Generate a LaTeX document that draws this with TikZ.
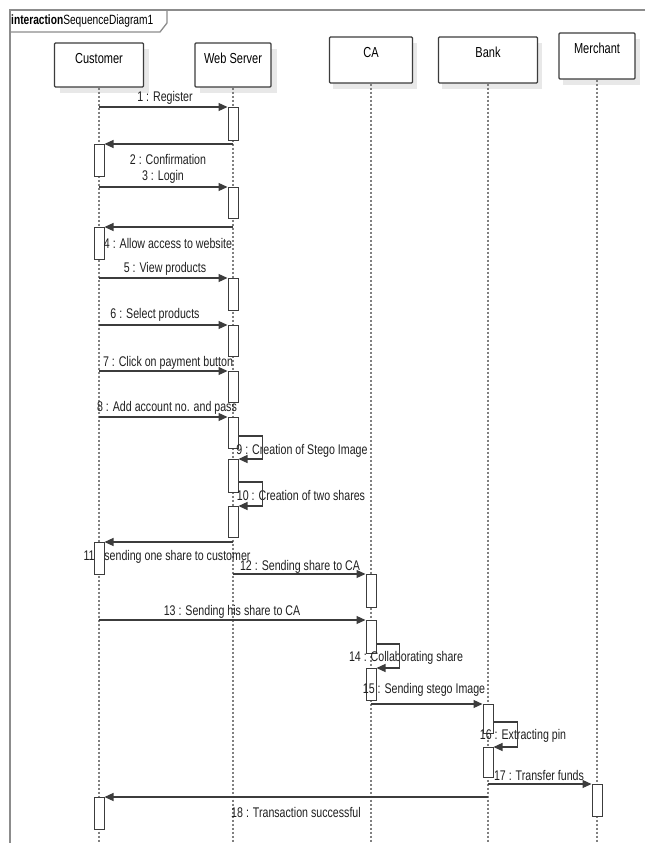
\documentclass[tikz,border=0pt]{standalone}
\usepackage{fontspec}
\setmainfont{Liberation Sans}[FakeStretch=0.76]
\usetikzlibrary{arrows.meta}
\definecolor{linec}{HTML}{3C3C3C}
\definecolor{lifec}{HTML}{808080}
\definecolor{framec}{HTML}{8C8C8C}
\definecolor{shadowc}{HTML}{E8E8E8}
\definecolor{textc}{HTML}{202020}
\begin{document}
\begin{tikzpicture}[x=1pt,y=-1pt,
  head/.style={draw=linec, line width=1.2pt, fill=white, rounded corners=1pt, minimum height=44pt, inner sep=0pt},
  headtxt/.style={font=\fontsize{14.5}{16}\selectfont, text=black, inner sep=0pt, anchor=center, yshift=-16pt},
  life/.style={draw=lifec, line width=1.1pt, dash pattern=on 2pt off 2pt},
  act/.style={draw=linec, line width=1pt, fill=white, minimum width=10pt, inner sep=0pt, anchor=north},
  msg/.style={draw=linec, line width=1.2pt, -{Triangle[length=9pt,width=8pt]}},
  lbl/.style={font=\fontsize{14}{15}\selectfont, text=textc, inner sep=0pt},
  shadowbox/.style={fill=shadowc, draw=none},
]
\useasboundingbox (0,0) rectangle (645,843);
\fill[white] (0,0) rectangle (645,843);

% frame
\draw[framec, line width=1.3pt] (645,10) -- (10,10) -- (10,843);
\draw[framec, line width=1.3pt] (10,32) -- (160,32) -- (167,23) -- (167,10);
\node[font=\fontsize{13.4}{15}\selectfont, anchor=west, inner sep=0pt] (title) at (11,21) {\textbf{interaction}SequenceDiagram1};

% shadows
\fill[shadowbox] (60,49) rectangle (149,93);
\fill[shadowbox] (200,49) rectangle (277,93);
\fill[shadowbox] (333,43) rectangle (417,89);
\fill[shadowbox] (442,43) rectangle (542,89);
\fill[shadowbox] (563,39) rectangle (640,85);

% heads
\node[head, minimum width=89pt, label={[headtxt]north:Customer}] (cu) at (99,65) {};
\node[head, minimum width=76pt, label={[headtxt]north:Web Server}] (ws) at (233,65) {};
\node[head, minimum width=83pt, minimum height=46pt, label={[headtxt]north:CA}] (ca) at (371,60) {};
\node[head, minimum width=99pt, minimum height=46pt, label={[headtxt]north:Bank}] (bk) at (488,60) {};
\node[head, minimum width=76pt, minimum height=46pt, label={[headtxt]north:Merchant}] (mc) at (597,56) {};

% lifelines
\coordinate (cuE) at (99,843);
\coordinate (wsE) at (233,843);
\coordinate (caE) at (371,843);
\coordinate (bkE) at (488,843);
\coordinate (mcE) at (597,843);
\draw[life] (cu.south) -- (cuE);
\draw[life] (ws.south) -- (wsE);
\draw[life] (ca.south) -- (caE);
\draw[life] (bk.south) -- (bkE);
\draw[life] (mc.south) -- (mcE);

% activations
\node[act, minimum height=33pt] (w1) at (233,107) {};
\node[act, minimum height=31pt] (w2) at (233,187) {};
\node[act, minimum height=32pt] (w3) at (233,278) {};
\node[act, minimum height=31pt] (w4) at (233,325) {};
\node[act, minimum height=31pt] (w5) at (233,371) {};
\node[act, minimum height=31pt] (w6) at (233,417) {};
\node[act, minimum height=33pt] (w7) at (233,459) {};
\node[act, minimum height=31pt] (w8) at (233,506) {};
\node[act, minimum height=32pt] (c1) at (99,144) {};
\node[act, minimum height=32pt] (c2) at (99,227) {};
\node[act, minimum height=32pt] (c4) at (99,797) {};
\node[act, minimum height=33pt] (k1) at (371,574) {};
\node[act, minimum height=33pt] (k2) at (371,620) {};
\node[act, minimum height=32pt] (k3) at (371,668) {};
\node[act, minimum height=29pt] (b1) at (488,704) {};
\node[act, minimum height=30pt] (b2) at (488,747) {};
\node[act, minimum height=32pt] (m1) at (597,784) {};

% labels
\node[lbl] (l1) at (165,98) {1 : Register};
\node[lbl] (l2) at (168,159) {2 : Confirmation};
\node[lbl] (l3) at (163,177) {3 : Login};
\node[lbl] (l4) at (168,243) {4 : Allow access to website};
\node[lbl] (l5) at (165,269) {5 : View products};
\node[lbl] (l6) at (155,315) {6 : Select products};
\node[lbl] (l7) at (168,363) {7 : Click on payment button};
\node[lbl] (l8) at (167,408) {8 : Add account no. and pass};
\node[lbl] (l9) at (302,451) {9 : Creation of Stego Image};
\node[lbl] (l10) at (301,495) {10 : Creation of two shares};
\node[lbl] (l11) at (167,557) {11 : sending one share to customer};
\node[lbl] (l12) at (300,567) {12 : Sending share to CA};
\node[lbl] (l13) at (232,612) {13 : Sending his share to CA};
\node[lbl] (l14) at (406,658) {14 : Collaborating share};
\node[lbl] (l15) at (424,690) {15 : Sending stego Image};
\node[lbl] (l16) at (523,736) {16 : Extracting pin};
\node[lbl] (l17) at (539,775) {17 : Transfer funds};
\node[lbl] (l18) at (296,812) {18 : Transaction successful};

% activation drawn over its label
\node[act, minimum height=32pt] (c3) at (99,542) {};

% messages
\draw[msg] (cu.south |- w1.north) -- (w1.north west);
\draw[msg] (ws.south |- c1.north) -- (c1.north east);
\draw[msg] (cu.south |- w2.north) -- (w2.north west);
\draw[msg] (ws.south |- c2.north) -- (c2.north east);
\draw[msg] (cu.south |- w3.north) -- (w3.north west);
\draw[msg] (cu.south |- w4.north) -- (w4.north west);
\draw[msg] (cu.south |- w5.north) -- (w5.north west);
\draw[msg] (cu.south |- w6.north) -- (w6.north west);
\draw[msg] (w6.east |- 0,436) -- ++(24,0) |- (w7.north east);
\draw[msg] (w7.east |- 0,482) -- ++(24,0) |- (w8.north east);
\draw[msg] (ws.south |- c3.north) -- (c3.north east);
\draw[msg] (ws.south |- k1.north) -- (k1.north west);
\draw[msg] (cu.south |- k2.north) -- (k2.north west);
\draw[msg] (k2.east |- 0,644) -- ++(23,0) |- (k3.north east);
\draw[msg] (ca.south |- b1.north) -- (b1.north west);
\draw[msg] (b1.east |- 0,722) -- ++(24,0) |- (b2.north east);
\draw[msg] (bk.south |- m1.north) -- (m1.north west);
\draw[msg] (bk.south |- c4.north) -- (c4.north east);
\end{tikzpicture}
\end{document}
